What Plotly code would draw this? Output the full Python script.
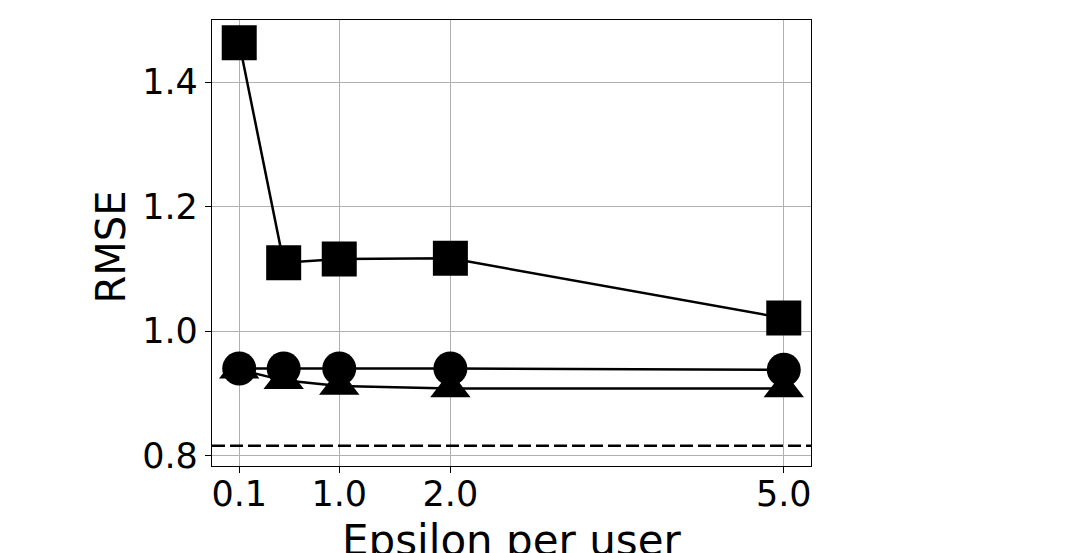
import plotly.graph_objects as go

# Data
epsilon = [0.1, 0.5, 1.0, 2.0, 5.0]
rmse_square = [1.4635, 1.110, 1.116, 1.117, 1.021]
rmse_circle = [0.940, 0.940, 0.940, 0.940, 0.938]
rmse_triangle = [0.938, 0.921, 0.912, 0.908, 0.908]
baseline_rmse = 0.816

x_tick_vals = [0.1, 1.0, 2.0, 5.0]
x_tick_text = ["0.1", "1.0", "2.0", "5.0"]
y_tick_vals = [0.8, 1.0, 1.2, 1.4]
y_tick_text = ["0.8", "1.0", "1.2", "1.4"]

FONT = "DejaVu Sans"
# page body has an 8px margin, so the figure is a bit smaller than the window
W, H = 1059, 545
L, R, T, B = 204, 256, 12, 87

fig = go.Figure()

line_style = dict(color="black", width=2.5)

fig.add_trace(go.Scatter(
    x=epsilon, y=rmse_triangle, mode="lines+markers",
    line=line_style,
    marker=dict(symbol="triangle-up", size=35, color="black"),
    showlegend=False))
fig.add_trace(go.Scatter(
    x=epsilon, y=rmse_circle, mode="lines+markers",
    line=line_style,
    marker=dict(symbol="circle", size=34, color="black"),
    showlegend=False))
fig.add_trace(go.Scatter(
    x=epsilon, y=rmse_square, mode="lines+markers",
    line=line_style,
    marker=dict(symbol="square", size=35, color="black"),
    showlegend=False))

fig.add_shape(type="line", xref="paper", x0=0, x1=1, yref="y",
              y0=baseline_rmse, y1=baseline_rmse,
              line=dict(color="black", width=2.5, dash="13px,5px"))

axis_common = dict(
    showgrid=True, gridcolor="#b0b0b0", gridwidth=1,
    showline=True, linecolor="black", linewidth=1.2, mirror=True,
    ticks="outside", ticklen=6, tickwidth=1, tickcolor="black",
    tickfont=dict(family=FONT, size=35, color="black"),
    zeroline=False,
)

fig.update_xaxes(range=[-0.145, 5.245], tickvals=x_tick_vals,
                 ticktext=x_tick_text, ticklabelstandoff=-9, **axis_common)
fig.update_yaxes(range=[0.7834, 1.5], tickvals=y_tick_vals,
                 ticktext=y_tick_text, **axis_common)

fig.add_annotation(text="Epsilon per user", xref="paper", yref="paper",
                   x=0.5, y=0, xanchor="center", yanchor="top", yshift=-48,
                   showarrow=False,
                   font=dict(family=FONT, size=42, color="black"))
fig.add_annotation(text="RMSE", xref="paper", yref="paper",
                   x=0, y=(H - B - (247.5 - 8)) / (H - B - T), xanchor="center",
                   yanchor="middle", xshift=110 - 8 - L, textangle=-90,
                   showarrow=False,
                   font=dict(family=FONT, size=40, color="black"))

fig.update_layout(
    width=W, height=H,
    margin=dict(l=L, r=R, t=T, b=B),
    paper_bgcolor="white", plot_bgcolor="white",
    font=dict(family=FONT, color="black"),
)

fig.write_html("out.html")
